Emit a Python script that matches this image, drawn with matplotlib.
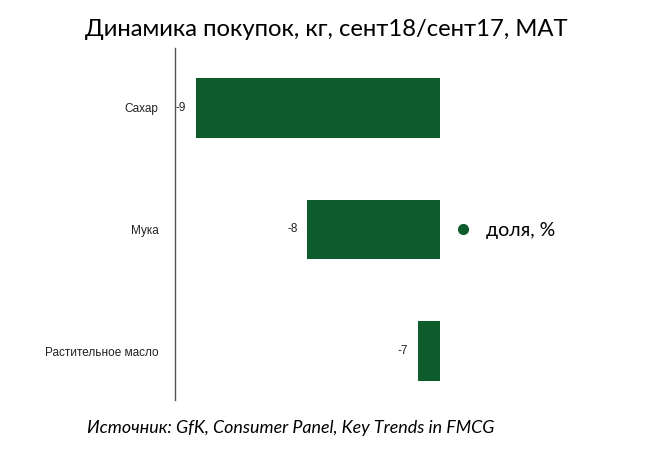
import matplotlib.pyplot as plt
from matplotlib.lines import Line2D

# данные
categories = ['Сахар', 'Мука', 'Растительное масло']
values = [-9, -8, -7]
base = -6.8  # ось пересекает здесь
bar_color = '#0e5c2b'

fig = plt.figure(figsize=(6.51, 4.54), dpi=100)
ax = fig.add_axes([0.2688, 0.1189, 0.95 - 0.2688, 0.8943 - 0.1189])

y = list(range(len(categories)))
widths = [base - v for v in values]
ax.barh(y, widths, left=values, height=0.49, color=bar_color)

ax.set_xlim(-9.19, -5.196)
ax.set_ylim(2.4, -0.49)

for yi, v in zip(y, values):
    ax.annotate(str(v), (v, yi), xytext=(-7, 0), textcoords='offset points',
                ha='right', va='center', fontsize=8.5, family='Liberation Sans',
                color='#222222')

ax.set_yticks(y)
ax.set_yticklabels(categories, fontsize=8.5, family='Liberation Sans', color='#222222')
ax.tick_params(axis='y', length=0, pad=12)
ax.set_xticks([])
for s in ['top', 'right', 'bottom']:
    ax.spines[s].set_visible(False)
ax.spines['left'].set_color('#555555')
ax.spines['left'].set_linewidth(1)

fig.text(0.502, 0.934, 'Динамика покупок, кг, сент18/сент17, МАТ',
         ha='center', va='center', fontsize=17.2, family='Lato')

handle = Line2D([], [], marker='o', linestyle='none', color=bar_color, markersize=7)
fig.legend([handle], ['доля, %'], loc='center left', bbox_to_anchor=(0.655, 0.493),
           frameon=False, prop={'family': 'Lato', 'size': 14},
           handletextpad=0.15)

fig.text(0.133, 0.057, 'Источник: GfK, Consumer Panel, Key Trends in FMCG',
         ha='left', va='center', fontsize=12.9, family='Lato', style='italic')

fig.savefig('out.png', dpi=100)
